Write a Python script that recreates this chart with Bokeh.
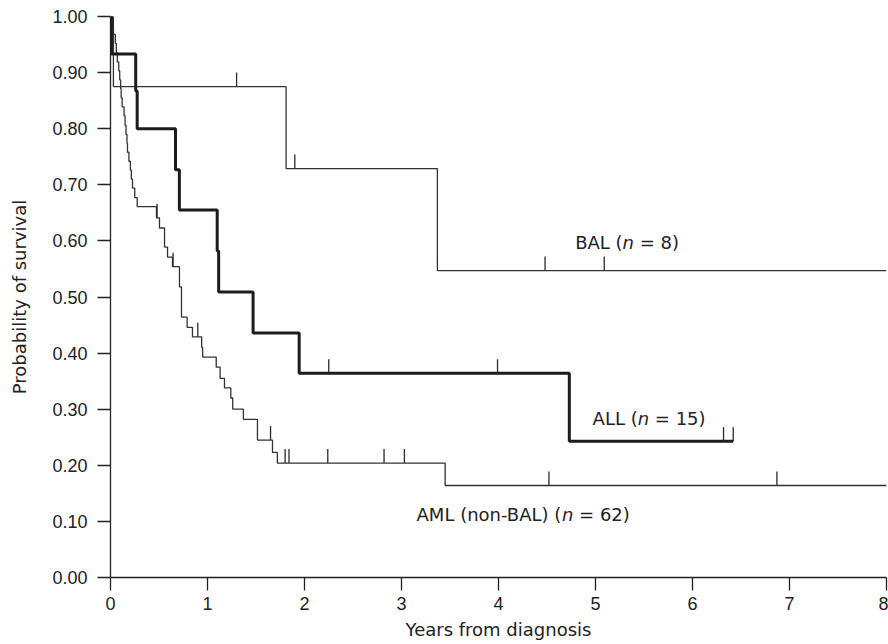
import numpy as np
from bokeh.plotting import figure
from bokeh.models import Range1d, FixedTicker, NumeralTickFormatter
from bokeh.core.properties import value
from bokeh.embed import file_html
from bokeh.resources import INLINE

# ---------------- data ----------------
x_ticks = [0, 1, 2, 3, 4, 5, 6, 7, 8]
y_ticks = [0.0, 0.1, 0.2, 0.3, 0.4, 0.5, 0.6, 0.7, 0.8, 0.9, 1.0]

# BAL (n = 8): event times (years) and survival after each event
bal_times = [0.03, 1.81, 3.37]
bal_surv = [0.875, 0.729, 0.547]
bal_end = 8.0
bal_censor = [1.30, 1.90, 4.48, 5.09]

# ALL (n = 15)
all_times = [0.01, 0.26, 0.275, 0.67, 0.71, 1.10, 1.115, 1.47, 1.945, 4.73]
all_surv = [0.933, 0.867, 0.800, 0.727, 0.655, 0.582, 0.509, 0.436, 0.364, 0.243]
all_end = 6.42
all_censor = [2.25, 3.99, 6.32, 6.42]

# AML (non-BAL) (n = 62)
aml_times = [0.02, 0.03, 0.05, 0.06, 0.07, 0.085, 0.095, 0.105, 0.11, 0.12,
             0.14, 0.15, 0.16, 0.17, 0.175, 0.19, 0.205, 0.215, 0.227, 0.25,
             0.275, 0.474, 0.505, 0.557, 0.588, 0.639, 0.711, 0.732, 0.79, 0.845,
             0.94, 0.95, 1.09, 1.13, 1.175, 1.24, 1.26, 1.37, 1.515, 1.67,
             1.72, 3.45]
aml_surv = [0.984, 0.968, 0.952, 0.935, 0.919, 0.903, 0.887, 0.871, 0.855, 0.839,
            0.823, 0.806, 0.790, 0.774, 0.758, 0.742, 0.726, 0.710, 0.694, 0.677,
            0.661, 0.641, 0.623, 0.589, 0.571, 0.554, 0.518, 0.464, 0.446, 0.429,
            0.410, 0.393, 0.375, 0.355, 0.338, 0.320, 0.300, 0.282, 0.245, 0.223,
            0.204, 0.164]
aml_end = 8.0
aml_censor = [0.48, 0.645, 0.90, 1.65, 1.80, 1.84, 2.24, 2.82, 3.03, 4.52, 6.87]

# labels: (pre, italic, post, x, y)
labels = [
    ("BAL (", "n", "= 8)", 4.79, 0.598),
    ("ALL (", "n", "= 15)", 4.97, 0.284),
    ("AML (non-BAL) (", "n", "= 62)", 3.155, 0.1125),
]

# ---------------- figure ----------------
p = figure(width=888, height=644, output_backend="svg", toolbar_location=None,
           x_range=Range1d(0, 8), y_range=Range1d(0, 1.0),
           min_border_left=110, min_border_top=16, min_border_right=2,
           min_border_bottom=67)
p.outline_line_color = None
p.xgrid.visible = False
p.ygrid.visible = False
p.background_fill_color = "white"

AX = "#222222"
for ax in (p.xaxis[0], p.yaxis[0]):
    ax.axis_line_color = AX
    ax.axis_line_width = 1.3
    ax.major_tick_line_color = AX
    ax.major_tick_line_width = 1.3
    ax.major_tick_in = 0
    ax.major_tick_out = 13
    ax.minor_tick_line_color = None
    ax.major_label_text_font = "Liberation Sans"
    ax.major_label_text_font_size = "18px"
    ax.major_label_text_color = "#222222"
    ax.axis_label_text_font = "DejaVu Sans"
    ax.axis_label_text_font_size = "18px"
    ax.axis_label_text_font_style = "normal"
    ax.axis_label_text_color = "#222222"

p.xaxis.ticker = FixedTicker(ticks=x_ticks)
p.yaxis.ticker = FixedTicker(ticks=y_ticks)
p.yaxis.formatter = NumeralTickFormatter(format="0.00")
p.xaxis.major_label_standoff = 6
p.yaxis.major_label_standoff = 10
p.xaxis.axis_label = "Years from diagnosis"
p.yaxis.axis_label = "Probability of survival"
p.xaxis.axis_label_standoff = 6
p.yaxis.axis_label_standoff = 19

TICK_H = 0.025


def draw_curve(times, surv, end, censor, width, color):
    xs = [0.0] + list(times) + [end]
    ys = [1.0] + list(surv) + [surv[-1]]
    p.step(xs, ys, mode="after", line_width=width, line_color=color)
    t_arr = np.array(times)
    s_arr = np.array(surv)
    cy = []
    for c in censor:
        idx = np.searchsorted(t_arr, c, side="right") - 1
        cy.append(1.0 if idx < 0 else float(s_arr[idx]))
    cy = np.array(cy)
    p.segment(x0=censor, y0=cy, x1=censor, y1=cy + TICK_H,
              line_width=1.3, line_color="#2a2a2a")


draw_curve(aml_times, aml_surv, aml_end, aml_censor, 1.3, "#333333")
draw_curve(bal_times, bal_surv, bal_end, bal_censor, 1.3, "#333333")
draw_curve(all_times, all_surv, all_end, all_censor, 3.0, "#1c1c1c")

# curve labels with italic n
FS = 18
EM = {"BAL (": 2.635, "ALL (": 2.506, "AML (non-BAL) (": 8.078}
for pre, it, post, lx, ly in labels:
    w1 = EM[pre] * FS
    w2 = 0.634 * FS
    sp = 0.318 * FS
    common = dict(text_font=value("DejaVu Sans"), text_font_size=f"{FS}px",
                  text_baseline="middle", text_align="left", text_color="#222222")
    p.text(x=[lx], y=[ly], text=[pre], x_offset=0, **common)
    p.text(x=[lx], y=[ly], text=[it], x_offset=w1, text_font_style="italic", **common)
    p.text(x=[lx], y=[ly], text=[post], x_offset=w1 + w2 + sp, **common)

open("out.html", "w").write(file_html(p, INLINE))
